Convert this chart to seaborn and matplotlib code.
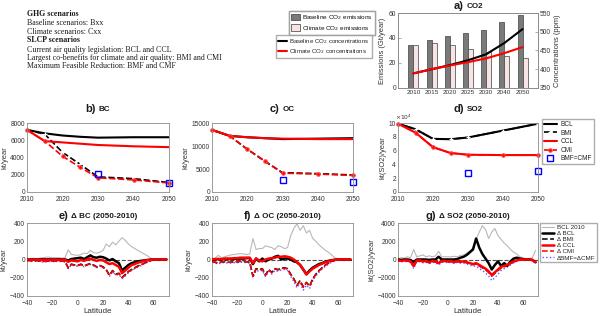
import numpy as np
import pandas as pd
import matplotlib
matplotlib.use('Agg')
import matplotlib.pyplot as plt
import seaborn as sns
from matplotlib.patches import Patch
from matplotlib.lines import Line2D

sns.set_style('white')
plt.rcParams['font.family'] = ['Liberation Sans', 'DejaVu Sans']

# ---- data: panel a (CO2)
years_a = ['2010', '2015', '2020', '2025', '2030', '2040', '2050']
emis_base = [34.5, 38.5, 41.5, 44, 46.5, 53, 58.5]
emis_clim = [34.5, 36, 34.5, 31.5, 29, 25.5, 24]
conc_base = [389, 400, 411, 424, 440, 470, 507]
conc_clim = [389, 400, 410, 419, 429, 443, 459]

# ---- data: panels b-d (emissions over time)
years = [2010, 2015, 2020, 2025, 2030, 2040, 2050]
sq_years = [2030, 2050]
bc_bcl = [7200, 6800, 6550, 6400, 6300, 6350, 6350]
bc_ccl = [7200, 5900, 5750, 5600, 5450, 5300, 5200]
bc_bmi = [7200, 6700, 4600, 3200, 1750, 1550, 1100]
bc_cmi = [7200, 5900, 4150, 2850, 1650, 1400, 1050]
bc_bmf = [2050, 1050]
oc_bcl = [13500, 12200, 11900, 11700, 11500, 11600, 11700]
oc_ccl = [13500, 12200, 11900, 11700, 11600, 11500, 11500]
oc_bmi = [13500, 12200, 9300, 6700, 4200, 4000, 3700]
oc_cmi = [13500, 12200, 9300, 6700, 4100, 3900, 3600]
oc_bmf = [2700, 2200]
so2_bcl = [9.9, 9.1, 7.7, 7.65, 7.9, 8.9, 9.9]
so2_ccl = [9.9, 8.6, 6.5, 5.65, 5.4, 5.35, 5.35]
so2_bmi = [9.9, 9.1, 7.7, 7.65, 7.9, 8.9, 9.9]
so2_cmi = [9.9, 8.6, 6.5, 5.65, 5.4, 5.35, 5.35]
so2_bmf = [2.75, 3.0]

# ---- data: panels e-g (change 2050-2010 by latitude)
lat = [-40, -37.5, -35, -32.5, -30, -27.5, -25, -22.5, -20, -17.5, -15, -12.5, -10, -7.5, -5,
       -2.5, 0, 2.5, 5, 7.5, 10, 12.5, 15, 17.5, 20, 22.5, 25, 27.5, 30, 32.5, 35, 37.5, 40,
       42.5, 45, 47.5, 50, 52.5, 55, 57.5, 60, 62.5, 65, 67.5, 70]

e_bcl2010 = [5, 8, 15, 10, 15, 20, 25, 25, 20, 20, 20, 15, 20, 105, 55, 50, 45, 55, 70, 65, 100, 75, 70,
             80, 100, 170, 140, 190, 160, 200, 240, 210, 170, 140, 120, 100, 80, 60, 40, 15, 5, 3, 2, 1, 0]
e_dbcl = [0, 0, 0, 0, 0, 2, 0, 2, 0, 0, 2, 0, 0, -10, 5, 10, 15, 20, 5, 25, 45, 25, 20,
          30, 25, 10, -10, 5, -20, -40, -120, -90, -60, -40, -30, -20, -15, -10, -5, -2, 0, 0, 0, 0, 0]
e_dccl = [0, -2, -3, -2, -3, -5, -5, -3, -5, -5, -3, -5, -5, -25, -10, -15, -20, -5, -15, 0, 10, -5, -15,
          -5, -10, -30, -50, -40, -60, -80, -150, -120, -90, -60, -50, -35, -25, -15, -8, -3, 0, 0, 0, 0, 0]
e_dbmi = [-10, -12, -15, -12, -15, -20, -18, -15, -15, -15, -12, -15, -20, -90, -50, -60, -65, -50, -70, -55, -45, -60, -80,
          -65, -80, -110, -170, -120, -160, -150, -195, -165, -130, -110, -90, -70, -55, -40, -25, -10, -5, -3, -2, -1, 0]
e_dcmi = [-10, -12, -15, -12, -15, -22, -20, -17, -17, -17, -15, -17, -22, -95, -55, -62, -68, -55, -75, -58, -50, -62, -85,
          -68, -85, -115, -175, -125, -165, -155, -200, -170, -135, -115, -95, -75, -60, -42, -27, -12, -5, -3, -2, -1, 0]
e_dbmf = [-15, -18, -20, -18, -20, -28, -25, -22, -22, -22, -20, -22, -28, -100, -60, -68, -72, -60, -80, -65, -55, -68, -90,
          -72, -92, -120, -185, -135, -170, -165, -210, -180, -145, -120, -100, -80, -65, -45, -30, -14, -6, -4, -3, -2, 0]

f_bcl2010 = [10, 15, 45, 20, 30, 40, 50, 55, 60, 65, 60, 55, 60, 230, 110, 120, 120, 150, 140, 130, 110, 150, 140,
             120, 130, 260, 340, 390, 320, 370, 290, 320, 230, 200, 160, 130, 100, 80, 50, 20, 8, 3, 2, 1, 0]
f_dbcl = [0, 0, 5, 0, 5, 5, 5, 5, 10, 10, 10, 15, 15, -50, 10, -20, 10, -20, 0, 10, 30, 40, 0,
          10, 10, 0, -20, -30, -60, -110, -160, -120, -90, -70, -50, -40, -25, -15, -8, -3, 0, 0, 0, 0, 0]
f_dccl = [0, 5, 5, 5, 10, 10, 10, 15, 15, 20, 20, 20, 20, -40, 10, -10, -20, 0, 10, 15, 20, 30, 30,
          35, 30, 20, 0, -30, -60, -110, -165, -130, -100, -80, -60, -45, -30, -20, -10, -5, 0, 0, 0, 0, 0]
f_dbmi = [-20, -30, -40, -25, -25, -30, -30, -25, -25, -20, -20, -25, -30, -180, -100, -110, -100, -170, -110, -140, -100, -110, -95,
          -90, -100, -160, -210, -280, -230, -300, -250, -290, -210, -160, -120, -90, -60, -40, -20, -8, -3, -2, -1, 0, 0]
f_dcmi = [-20, -30, -40, -25, -25, -30, -30, -25, -25, -20, -20, -25, -30, -185, -105, -115, -105, -175, -115, -145, -105, -115, -100,
          -95, -105, -165, -215, -285, -235, -305, -255, -295, -215, -165, -125, -95, -65, -42, -22, -10, -3, -2, -1, 0, 0]
f_dbmf = [-30, -40, -50, -35, -35, -40, -40, -35, -35, -30, -30, -35, -40, -200, -120, -130, -120, -190, -130, -160, -120, -130, -115,
          -110, -120, -185, -240, -310, -260, -335, -280, -320, -235, -180, -140, -105, -75, -50, -28, -12, -5, -3, -2, -1, 0]

g_bcl2010 = [100, 200, 150, 300, 200, 1100, 300, 400, 500, 300, 400, 300, 400, 900, 300, 300, 300, 300, 350, 300, 450, 500, 700,
             900, 1300, 2200, 3000, 3700, 3300, 2300, 3000, 3400, 2600, 2200, 1800, 1500, 1100, 800, 600, 300, 150, 100, 100, 200, 1000]
g_dbcl = [0, -50, 0, 0, -50, -300, 0, 0, 0, 0, -50, 0, 0, 300, 0, 0, 0, 0, 0, 50, 200, 300, 500,
          800, 1100, 2300, 1300, 600, 100, -400, -1100, -600, -200, -700, -400, -700, -200, 100, 200, 100, 50, 0, 0, -50, -300]
g_dccl = [-100, -150, -100, -100, -200, -700, -100, -100, -200, -150, -300, -150, -200, -400, -150, -150, -200, -150, -300, -150, -250, -200, -300,
          -400, -500, -400, -600, -800, -1000, -1300, -1700, -1400, -1100, -800, -700, -600, -400, -200, -100, 0, 0, 0, 0, -50, -300]
g_dbmi = [-100, -150, -100, -150, -200, -700, -150, -150, -250, -200, -350, -200, -250, -400, -200, -200, -250, -200, -300, -200, -300, -250, -350,
          -450, -550, -500, -700, -900, -1100, -1400, -1800, -1500, -1200, -900, -800, -650, -450, -250, -150, -50, 0, 0, 0, -50, -300]
g_dcmi = [-100, -150, -100, -150, -200, -700, -150, -150, -250, -200, -350, -200, -250, -400, -200, -200, -250, -200, -300, -200, -300, -250, -350,
          -450, -550, -500, -700, -900, -1100, -1400, -1800, -1500, -1200, -900, -800, -650, -450, -250, -150, -50, 0, 0, 0, -50, -300]
g_dbmf = [-150, -250, -200, -250, -300, -1000, -250, -250, -350, -300, -450, -300, -350, -600, -300, -300, -350, -300, -450, -300, -400, -400, -500,
          -600, -750, -700, -1000, -1200, -1500, -1800, -2300, -2000, -1600, -1200, -1000, -800, -600, -350, -200, -100, -50, 0, 0, -50, -400]

W, H = 602, 316
TICK = 4.8
LAB = 5.4


def rect(l, t, r, b):
    return [l / W, 1 - b / H, (r - l) / W, (b - t) / H]


def style(ax):
    for s in ax.spines.values():
        s.set_color('0.55')
        s.set_linewidth(0.6)
    ax.tick_params(labelsize=TICK, colors='0.2', direction='in', length=2, width=0.5, pad=1.5)
    ax.tick_params(axis='x', pad=2.6)
    ax.tick_params(axis='both', color='0.55')


fig = plt.figure(figsize=(6.02, 3.16), dpi=100)
renderer = fig.canvas.get_renderer()


def title(ax, letter, rest, gap_px):
    t1 = ax.text(0, 1, letter, transform=ax.transAxes, ha='left', va='center',
                 fontsize=8, fontweight='bold', color='0.1')
    t2 = ax.text(0, 1, rest, transform=ax.transAxes, ha='left', va='center',
                 fontsize=5.8, fontweight='bold', color='0.1')
    w1 = t1.get_window_extent(renderer).width
    w2 = t2.get_window_extent(renderer).width
    axw = ax.get_window_extent(renderer).width
    axh = ax.get_window_extent(renderer).height
    tot = w1 + 3 + w2
    y = 1 + gap_px / axh
    t1.set_position((0.5 - tot / 2 / axw, y))
    t2.set_position((0.5 - tot / 2 / axw + (w1 + 3) / axw, y - 0.5 / axh))


# ---- text block
txt = [('GHG scenarios', 'bold', 14), ('Baseline scenarios: Bxx', 'normal', 23),
       ('Climate scenarios: Cxx', 'normal', 32), ('SLCP scenarios', 'bold', 40.5),
       ('Current air quality legislation: BCL and CCL', 'normal', 49.5),
       ('Largest co-benefits for climate and air quality: BMI and CMI', 'normal', 58),
       ('Maximum Feasible Reduction: BMF and CMF', 'normal', 66.5)]
for s, w, y in txt:
    fig.text(27 / W, 1 - y / H, s, family=['Liberation Serif', 'DejaVu Serif'], fontsize=5.7,
             fontweight=w, va='center', ha='left', color='0.1')

# ---- panel a
ax_a = fig.add_axes(rect(398, 13, 538, 88))
df_a = pd.DataFrame({'year': years_a * 2,
                     'scen': ['Baseline'] * len(years_a) + ['Climate'] * len(years_a),
                     'emis': emis_base + emis_clim})
sns.barplot(data=df_a, x='year', y='emis', hue='scen', palette=['#7a7a7a', '#fbe1e1'],
            width=0.55, edgecolor='0.25', linewidth=0.5, ax=ax_a, legend=False)
ax_a.set_xlim(-0.85, 6.85)
ax_a.set_ylim(0, 60)
ax_a.set_yticks([0, 20, 40, 60])
ax_a.set_xlabel('')
ax_a.set_ylabel('Emissions (Gt/year)', fontsize=LAB, color='0.2', labelpad=2)
style(ax_a)
ax_a.tick_params(axis='x', labelsize=4.6, pad=1.5)
ax_a2 = ax_a.twinx()
pos = np.arange(len(years_a))
sns.lineplot(x=pos, y=conc_base, color='black', lw=1.5, ax=ax_a2)
sns.lineplot(x=pos, y=conc_clim, color='red', lw=1.5, ax=ax_a2)
ax_a2.set_ylim(350, 550)
ax_a2.set_yticks([350, 400, 450, 500, 550])
ax_a2.set_ylabel('Concentrations (ppm)', fontsize=LAB, color='0.2', labelpad=2)
style(ax_a2)
title(ax_a, 'a)', 'CO2', 7)

leg1 = fig.legend(handles=[Patch(fc='#7a7a7a', ec='0.25', lw=0.5), Patch(fc='#fbe1e1', ec='0.25', lw=0.5)],
                  labels=['Baseline CO$_2$ emissions', 'Climate CO$_2$ emissions'],
                  loc='upper left', bbox_to_anchor=(289 / W, 1 - 11 / H), fontsize=4.6, frameon=True,
                  fancybox=False, borderaxespad=0, handlelength=1.4, handleheight=1.1,
                  handletextpad=0.4, borderpad=0.3, labelspacing=0.3, edgecolor='0.6')
leg2 = fig.legend(handles=[Line2D([], [], color='black', lw=1.5), Line2D([], [], color='red', lw=1.5)],
                  labels=['Baseline CO$_2$ concentrations', 'Climate CO$_2$ concentrations'],
                  loc='upper left', bbox_to_anchor=(276 / W, 1 - 35 / H), fontsize=4.4, frameon=True,
                  fancybox=False, borderaxespad=0, handlelength=1.5, handletextpad=0.4,
                  borderpad=0.3, labelspacing=0.3, edgecolor='0.6')
fig.add_artist(leg1)

# ---- panels b-d
panels = [
    (rect(27, 123, 169, 192), 'BC', bc_bcl, bc_ccl, bc_bmi, bc_cmi, bc_bmf, (0, 8000), [0, 2000, 4000, 6000, 8000], 'kt/year'),
    (rect(212, 123, 353, 192), 'OC', oc_bcl, oc_ccl, oc_bmi, oc_cmi, oc_bmf, (0, 15000), [0, 5000, 10000, 15000], 'kt/year'),
    (rect(398, 123, 538, 192), 'SO2', so2_bcl, so2_ccl, so2_bmi, so2_cmi, so2_bmf, (0, 10), [0, 2, 4, 6, 8, 10], 'kt(SO2)/year'),
]
letters = ['b)', 'c)', 'd)']
for i, (r, name, bcl, ccl, bmi, cmi, bmf, ylim, yt, yl) in enumerate(panels):
    ax = fig.add_axes(r)
    sns.lineplot(x=years, y=bcl, color='black', lw=1.5, label='BCL', ax=ax)
    sns.lineplot(x=years, y=bmi, color='black', lw=1.2, ls='--', marker='+', ms=3.5, mew=0.9,
                 label='BMI', ax=ax, clip_on=False)
    sns.lineplot(x=years, y=ccl, color='red', lw=1.5, label='CCL', ax=ax)
    sns.lineplot(x=years, y=cmi, color='red', lw=1.2, ls='--', marker='o', ms=2.5, mec='#ff4040',
                 label='CMI', ax=ax, clip_on=False)
    sns.lineplot(x=sq_years, y=bmf, ls='', marker='s', ms=4, mfc='none', mec='blue', mew=1.0,
                 label='BMF=CMF', ax=ax, clip_on=False)
    if ax.get_legend() is not None:
        ax.get_legend().remove()
    ax.set_xlim(2010, 2050)
    ax.set_xticks([2010, 2020, 2030, 2040, 2050])
    ax.set_ylim(*ylim)
    ax.set_yticks(yt)
    ax.set_ylabel(yl, fontsize=LAB, color='0.2', labelpad=1.5)
    style(ax)
    title(ax, letters[i], name, 14)
    if name == 'SO2':
        ax.text(-0.02, 1.01, r'$\times10^4$', transform=ax.transAxes, fontsize=4.3, color='0.2',
                ha='left', va='bottom')
        h, l = ax.get_legend_handles_labels()
        fig.legend(h, l, loc='upper left', bbox_to_anchor=(542 / W, 1 - 119 / H), fontsize=4.7,
                   frameon=True, fancybox=False, borderaxespad=0, handlelength=2.0, handletextpad=0.5,
                   borderpad=0.3, labelspacing=0.25, edgecolor='0.6')

# ---- panels e-g
lat_panels = [
    (rect(27, 223, 169, 296), 'e)', '\u0394 BC (2050-2010)', e_bcl2010, e_dbcl, e_dbmi, e_dccl, e_dcmi, e_dbmf,
     400, [-400, -200, 0, 200, 400], 'kt/year'),
    (rect(212, 223, 353, 296), 'f)', '\u0394 OC (2050-2010)', f_bcl2010, f_dbcl, f_dbmi, f_dccl, f_dcmi, f_dbmf,
     400, [-400, -200, 0, 200, 400], 'kt/year'),
    (rect(398, 223, 538, 296), 'g)', '\u0394 SO2 (2050-2010)', g_bcl2010, g_dbcl, g_dbmi, g_dccl, g_dcmi, g_dbmf,
     4000, [-4000, -2000, 0, 2000, 4000], 'kt(SO2)/year'),
]
for r, letter, rest, base, dbcl, dbmi, dccl, dcmi, dbmf, lim, yt, yl in lat_panels:
    ax = fig.add_axes(r)
    ax.axhline(0, color='0.3', ls='--', lw=0.8, zorder=1)
    sns.lineplot(x=lat, y=base, color='0.72', lw=0.8, label='BCL 2010', ax=ax)
    sns.lineplot(x=lat, y=dbcl, color='black', lw=1.8, label='\u0394 BCL', ax=ax)
    sns.lineplot(x=lat, y=dbmi, color='black', lw=1.1, ls='--', label='\u0394 BMI', ax=ax)
    sns.lineplot(x=lat, y=dccl, color='red', lw=1.8, label='\u0394 CCL', ax=ax)
    sns.lineplot(x=lat, y=dcmi, color='red', lw=1.1, ls='--', label='\u0394 CMI', ax=ax)
    sns.lineplot(x=lat, y=dbmf, color='#5a5aff', lw=1.0, ls=':', label='\u0394BMF=\u0394CMF', ax=ax)
    # draw order: blue under dashed, solid on top
    for ln in ax.lines:
        lab = ln.get_label()
        if lab.startswith('\u0394BMF'):
            ln.set_zorder(2)
        elif lab in ('\u0394 BMI', '\u0394 CMI'):
            ln.set_zorder(3)
        elif lab in ('\u0394 BCL', '\u0394 CCL'):
            ln.set_zorder(4 if lab == '\u0394 BCL' else 5)
    if ax.get_legend() is not None:
        ax.get_legend().remove()
    ax.set_xlim(-40, 72)
    ax.set_xticks([-40, -20, 0, 20, 40, 60])
    ax.set_ylim(-lim, lim)
    ax.set_yticks(yt)
    ax.set_xlabel('Latitude', fontsize=5.8, color='0.2', labelpad=1)
    ax.set_ylabel(yl, fontsize=LAB, color='0.2', labelpad=1.5)
    style(ax)
    title(ax, letter, rest, 7)
    if letter == 'g)':
        h, l = ax.get_legend_handles_labels()
        fig.legend(h, l, loc='upper left', bbox_to_anchor=(540 / W, 1 - 223 / H), fontsize=4.5,
                   frameon=True, fancybox=False, borderaxespad=0, handlelength=2.0, handletextpad=0.4,
                   borderpad=0.25, labelspacing=0.12, edgecolor='0.6')

fig.savefig('out.png', dpi=100)
